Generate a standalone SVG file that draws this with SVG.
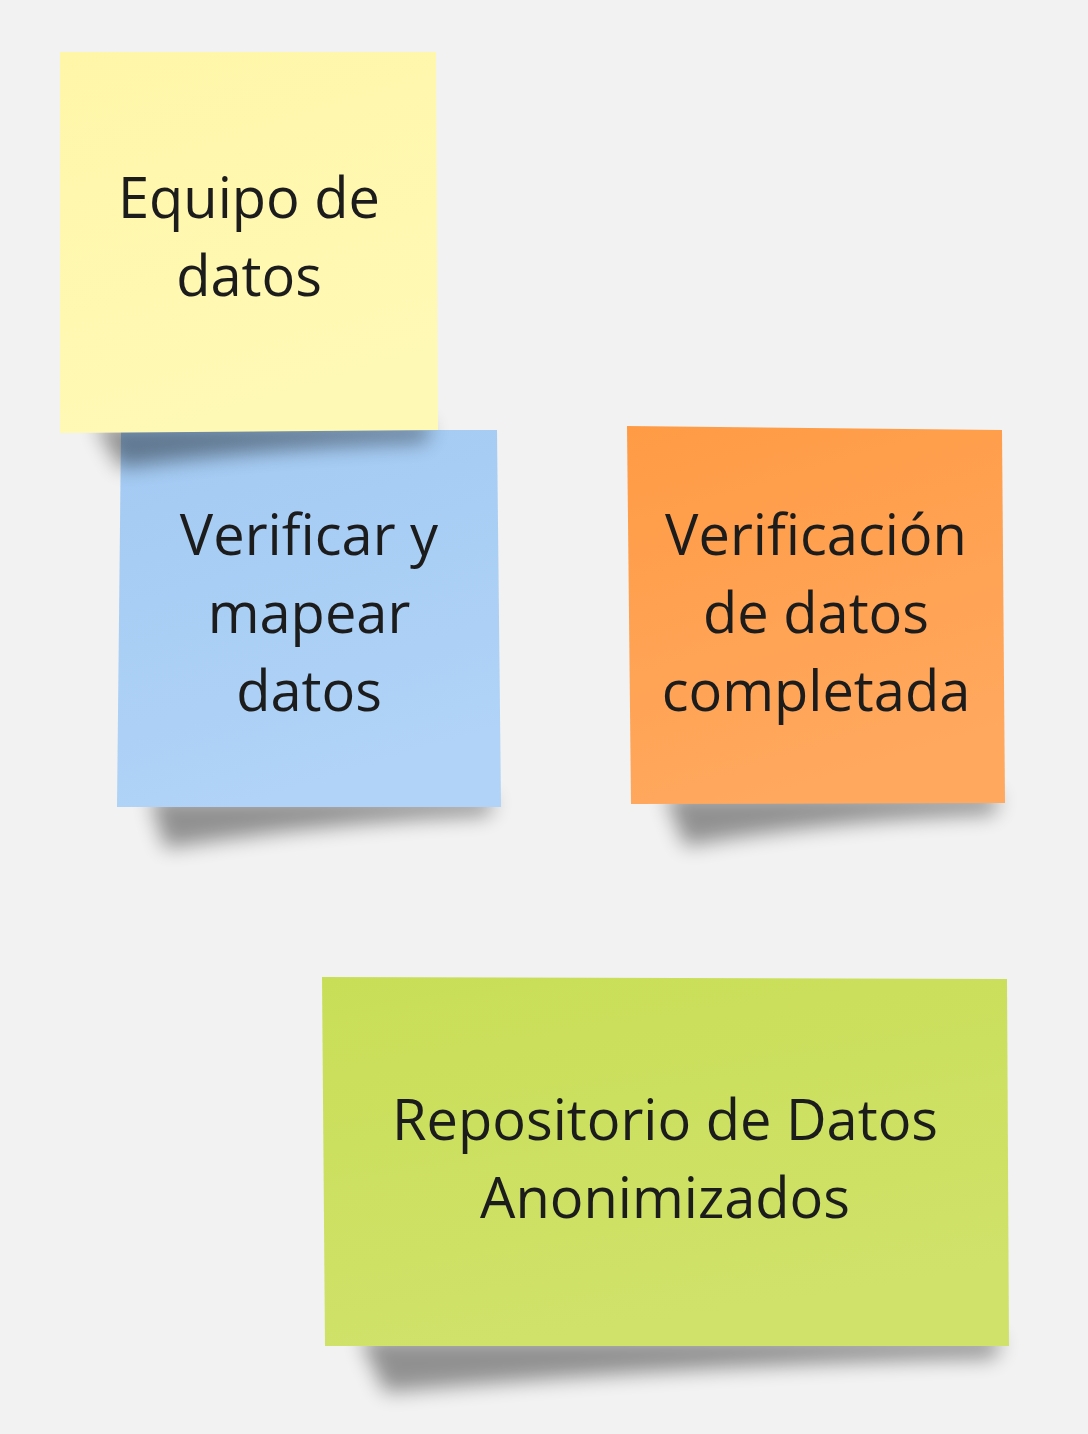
<svg xmlns="http://www.w3.org/2000/svg" width="1088" height="1434" viewBox="0 0 1088 1434">
<style>
.t{font-family:"Open Sans","Noto Sans",sans-serif;font-size:56px;fill:#1c1c1c;text-anchor:middle}
.sh{fill:#000;opacity:0.4;filter:url(#blur)}
</style>
<defs>
<filter id="blur" x="-20%" y="-150%" width="140%" height="400%"><feGaussianBlur stdDeviation="10"/></filter>
<linearGradient id="gy" x1="0" y1="0" x2="0.3" y2="1"><stop offset="0" stop-color="#fff6a8"/><stop offset="1" stop-color="#fff9b6"/></linearGradient>
<linearGradient id="gb" x1="0" y1="0" x2="0.3" y2="1"><stop offset="0" stop-color="#a3caf3"/><stop offset="1" stop-color="#b0d3f7"/></linearGradient>
<linearGradient id="go" x1="0" y1="0" x2="0.3" y2="1"><stop offset="0" stop-color="#ff9b45"/><stop offset="1" stop-color="#ffa85e"/></linearGradient>
<linearGradient id="gg" x1="0" y1="0" x2="0.3" y2="1"><stop offset="0" stop-color="#c9de57"/><stop offset="1" stop-color="#d0e26a"/></linearGradient>
</defs>
<rect width="1088" height="1434" fill="#f2f2f2"/>
<g id="connectors"></g>
<g id="verificar">
<path class="sh" d="M150,798 L495,798 L488,815 Q330,822 165,848 Z"/>
<polygon points="121,430 497,430 501,807 117,807" fill="url(#gb)"/>
<text class="t" x="309" y="555">Verificar y</text>
<text class="t" x="309" y="633">mapear</text>
<text class="t" x="309" y="711">datos</text>
</g>
<g id="equipo">
<path class="sh" d="M95,424 L432,424 L425,442 Q260,448 120,468 Z"/>
<polygon points="60,52 436,52 438,430 60,433" fill="url(#gy)"/>
<text class="t" x="249" y="218">Equipo de</text>
<text class="t" x="249" y="296">datos</text>
</g>
<g id="verificacion">
<path class="sh" d="M665,795 L1000,795 L993,814 Q830,820 685,846 Z"/>
<polygon points="627,426 1002,430 1005,803 631,804" fill="url(#go)"/>
<text class="t" x="816" y="555">Verificación</text>
<text class="t" x="816" y="633">de datos</text>
<text class="t" x="816" y="711">completada</text>
</g>
<g id="repositorio">
<path class="sh" d="M360,1338 L1002,1338 L994,1358 Q700,1364 385,1392 Z"/>
<polygon points="322,977 1007,979 1009,1346 325,1346" fill="url(#gg)"/>
<text class="t" x="665" y="1140">Repositorio de Datos</text>
<text class="t" x="665" y="1218">Anonimizados</text>
</g>
</svg>
